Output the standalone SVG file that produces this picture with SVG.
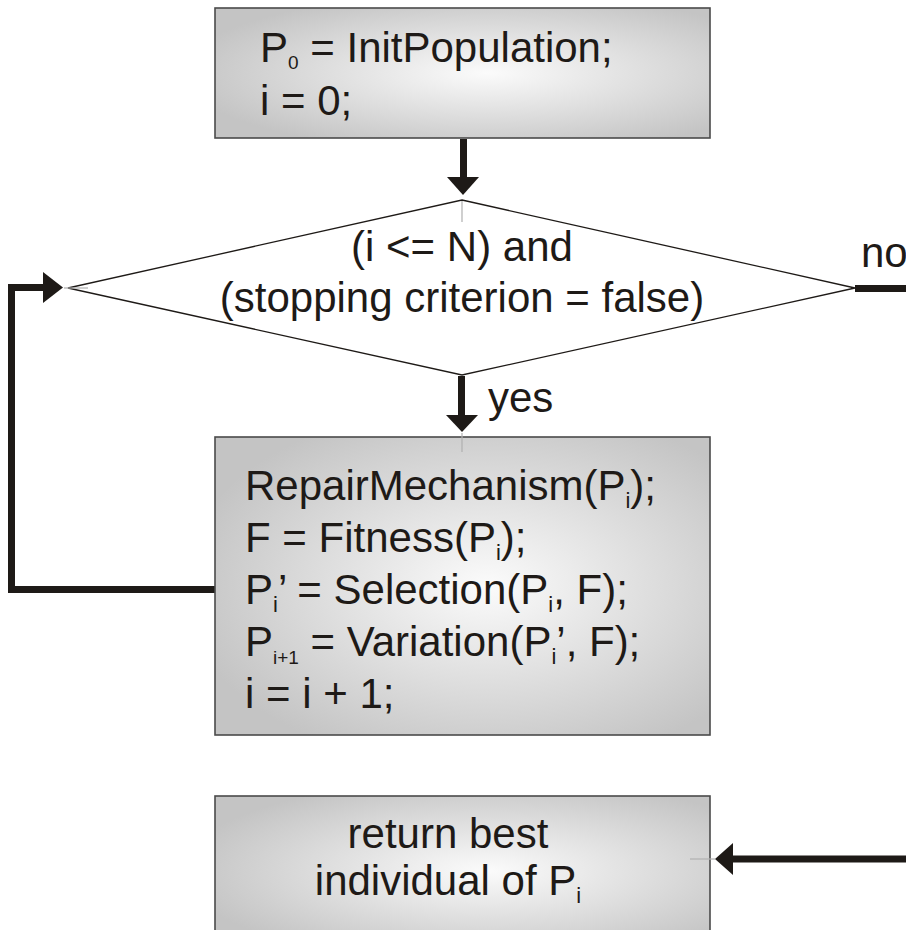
<svg xmlns="http://www.w3.org/2000/svg" width="906" height="930" viewBox="0 0 906 930">
  <defs>
    <radialGradient id="boxFill" cx="0.55" cy="0.5" r="0.62" fx="0.55" fy="0.5">
      <stop offset="0" stop-color="#fbfbfb"/>
      <stop offset="1" stop-color="#c4c4c4"/>
    </radialGradient>
  </defs>
  <style>
    .box { fill: url(#boxFill); stroke: #4a4a4a; stroke-width: 1.6; }
    .diamond { fill: #ffffff; stroke: #1e1a17; stroke-width: 1.3; }
    .txt { font-family: "Liberation Sans", Arial, sans-serif; font-size: 42px; fill: #1e1a17; }
    .sub { font-size: 22px; }
    .sub-s { font-size: 19px; }
    .wire { fill: none; stroke: #1e1a17; stroke-width: 7; }
    .head { fill: #1e1a17; }
    .guide { stroke: #b0b0b0; stroke-width: 1.2; }
  </style>

  <rect width="906" height="930" fill="#ffffff"/>

  <!-- connectors -->
  <g id="connectors">
    <!-- init box to decision -->
    <line class="wire" x1="463.5" y1="139" x2="463.5" y2="178"/>
    <polygon class="head" points="447,177 479,177 463,195"/>
    <!-- decision yes branch -->
    <line class="wire" x1="461.5" y1="376" x2="461.5" y2="416"/>
    <polygon class="head" points="446,415 478,415 462,432"/>
    <!-- loop back from body box to decision -->
    <path class="wire" d="M215,589.5 H11.5 V287.5 H45"/>
    <polygon class="head" points="43,272 63,287.5 43,303"/>
    <!-- decision no branch -->
    <line class="wire" x1="855" y1="288.5" x2="906" y2="288.5"/>
    <!-- into result box -->
    <line class="wire" x1="731" y1="859" x2="906" y2="859"/>
    <polygon class="head" points="733,843 715,859 733,875"/>
  </g>

  <!-- initialisation -->
  <g id="init">
    <rect class="box" x="215" y="8" width="495" height="130"/>
    <text class="txt" x="260" y="62">P<tspan class="sub-s" dy="7">0</tspan><tspan dy="-7"> = InitPopulation;</tspan></text>
    <text class="txt" x="260" y="115">i = 0;</text>
  </g>

  <!-- loop condition -->
  <g id="condition">
    <polygon class="diamond" points="462,200 855,288 462,375 68,288"/>
    <line class="guide" x1="462" y1="201" x2="462" y2="222"/>
    <line class="guide" x1="64" y1="288" x2="88" y2="288"/>
    <text class="txt" x="462" y="261" text-anchor="middle">(i &lt;= N) and</text>
    <text class="txt" x="462" y="312" text-anchor="middle">(stopping criterion = false)</text>
    <text class="txt" x="488" y="412">yes</text>
    <text class="txt" x="861" y="267">no</text>
  </g>

  <!-- loop body -->
  <g id="body">
    <rect class="box" x="215" y="437" width="495" height="298"/>
    <line class="guide" x1="462" y1="433" x2="462" y2="452"/>
    <text class="txt" x="245" y="500">RepairMechanism(P<tspan class="sub" dy="8">i</tspan><tspan dy="-8">);</tspan></text>
    <text class="txt" x="245" y="552">F = Fitness(P<tspan class="sub" dy="8">i</tspan><tspan dy="-8">);</tspan></text>
    <text class="txt" x="245" y="604">P<tspan class="sub" dy="8">i</tspan><tspan dy="-8">’ = Selection(P</tspan><tspan class="sub" dy="8">i</tspan><tspan dy="-8">, F);</tspan></text>
    <text class="txt" x="245" y="656">P<tspan class="sub-s" dy="8">i+1</tspan><tspan dy="-8"> = Variation(P</tspan><tspan class="sub" dy="8">i</tspan><tspan dy="-8">’, F);</tspan></text>
    <text class="txt" x="245" y="708">i = i + 1;</text>
  </g>

  <!-- result -->
  <g id="result">
    <rect class="box" x="215" y="796" width="495" height="150"/>
    <line class="guide" x1="690" y1="859" x2="715" y2="859"/>
    <text class="txt" x="448" y="848" text-anchor="middle">return best</text>
    <text class="txt" x="448" y="895" text-anchor="middle">individual of P<tspan class="sub" dy="8">i</tspan></text>
  </g>
</svg>
